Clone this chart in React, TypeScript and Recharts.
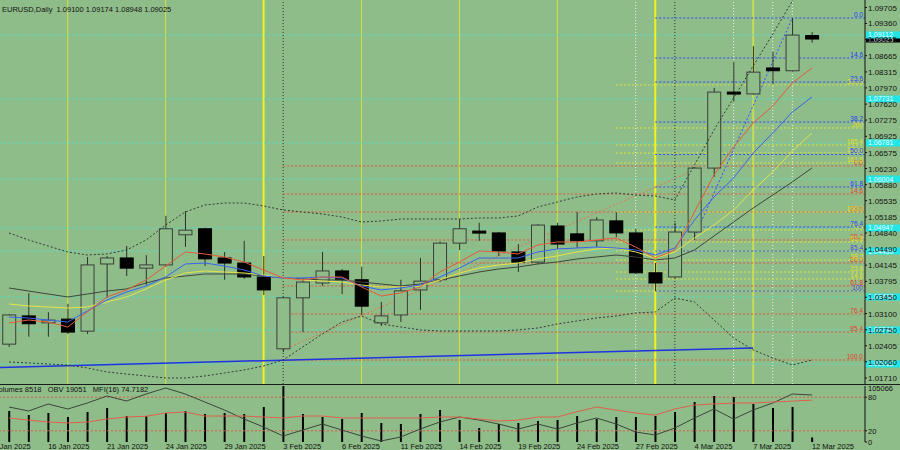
import React from "react";
import { Bar, ComposedChart, Line, ReferenceLine, XAxis, YAxis } from "recharts";

const BG = "#8fbd8a";
const FONT = "'Liberation Sans', Arial, sans-serif";
const X_MIN = -0.46;
const X_MAX = 43.71;
const PRICE_DOMAIN = [1.0158, 1.09867];

const dates = [
  "14 Jan", "15 Jan", "16 Jan", "17 Jan", "20 Jan", "21 Jan", "22 Jan", "23 Jan", "24 Jan", "27 Jan",
  "28 Jan", "29 Jan", "30 Jan", "31 Jan", "3 Feb", "4 Feb", "5 Feb", "6 Feb", "7 Feb", "10 Feb",
  "11 Feb", "12 Feb", "13 Feb", "14 Feb", "17 Feb", "18 Feb", "19 Feb", "20 Feb", "21 Feb", "24 Feb",
  "25 Feb", "26 Feb", "27 Feb", "28 Feb", "3 Mar", "4 Mar", "5 Mar", "6 Mar", "7 Mar", "10 Mar",
  "11 Mar", "12 Mar",
];

const opens = [1.0244, 1.0305, 1.029, 1.0298, 1.0272, 1.0417, 1.043, 1.0408, 1.0415, 1.048, 1.0493, 1.043, 1.0419, 1.0389, 1.0234, 1.0344, 1.0376, 1.0402, 1.0383, 1.029, 1.0307, 1.0361, 1.0383, 1.0462, 1.0488, 1.0484, 1.0443, 1.0421, 1.0499, 1.0482, 1.0467, 1.051, 1.0484, 1.0398, 1.0389, 1.0486, 1.0624, 1.0788, 1.0784, 1.084, 1.0834, 1.091];
const highs = [1.0309, 1.0354, 1.0313, 1.0331, 1.0432, 1.0434, 1.0456, 1.0436, 1.0521, 1.0531, 1.0495, 1.0443, 1.0467, 1.0434, 1.0346, 1.0387, 1.0443, 1.0406, 1.0411, 1.0335, 1.0383, 1.043, 1.0465, 1.0514, 1.0506, 1.0486, 1.046, 1.0503, 1.0506, 1.0529, 1.0518, 1.0529, 1.0493, 1.0419, 1.0506, 1.0626, 1.0797, 1.0853, 1.0887, 1.0875, 1.0948, 1.09174];
const lows = [1.0238, 1.026, 1.026, 1.0266, 1.0266, 1.0344, 1.0391, 1.0372, 1.0411, 1.0454, 1.0413, 1.0383, 1.0385, 1.035, 1.0227, 1.027, 1.037, 1.0352, 1.0307, 1.0283, 1.0292, 1.0318, 1.0378, 1.0447, 1.0467, 1.0434, 1.04, 1.0417, 1.0449, 1.0452, 1.0454, 1.0475, 1.0396, 1.0359, 1.0387, 1.0469, 1.0605, 1.0767, 1.0782, 1.0805, 1.0832, 1.08948];
const closes = [1.0307, 1.0288, 1.0296, 1.027, 1.0415, 1.043, 1.0408, 1.0415, 1.0493, 1.049, 1.0428, 1.0419, 1.0389, 1.0361, 1.0344, 1.0378, 1.0402, 1.0383, 1.0326, 1.0305, 1.0359, 1.038, 1.0462, 1.0493, 1.0484, 1.0445, 1.0421, 1.0501, 1.046, 1.0467, 1.0512, 1.0484, 1.0398, 1.0376, 1.0486, 1.0624, 1.0788, 1.0784, 1.0831, 1.0834, 1.0911, 1.09025];

const maRed = [1.02897, 1.02961, 1.02918, 1.0281, 1.03134, 1.03458, 1.03609, 1.03825, 1.04127, 1.04429, 1.04386, 1.04321, 1.04213, 1.04041, 1.03868, 1.03825, 1.03889, 1.03889, 1.03674, 1.03479, 1.03544, 1.03674, 1.03997, 1.04213, 1.0445, 1.04429, 1.04386, 1.0458, 1.04645, 1.04645, 1.04688, 1.04731, 1.04537, 1.04299, 1.04472, 1.05292, 1.06091, 1.06695, 1.07213, 1.0758, 1.08076, 1.084];
const maBlue = [1.03026, 1.03004, 1.02961, 1.02918, 1.03156, 1.03393, 1.03566, 1.03695, 1.03889, 1.0417, 1.04191, 1.04127, 1.04041, 1.03911, 1.03868, 1.03868, 1.03889, 1.03868, 1.03695, 1.03609, 1.03652, 1.03717, 1.03889, 1.04084, 1.04299, 1.04299, 1.04299, 1.04429, 1.04494, 1.04515, 1.04537, 1.04515, 1.04472, 1.04364, 1.04515, 1.05119, 1.05616, 1.06026, 1.06565, 1.06997, 1.0745, 1.07774];
const maYellow = [1.03307, 1.03264, 1.03242, 1.0322, 1.03242, 1.0335, 1.03458, 1.03631, 1.03825, 1.03976, 1.04019, 1.03997, 1.03976, 1.03933, 1.03868, 1.03825, 1.03803, 1.03781, 1.03717, 1.03674, 1.03674, 1.03695, 1.03825, 1.03976, 1.04084, 1.04148, 1.04191, 1.04278, 1.04343, 1.04429, 1.04494, 1.04515, 1.04429, 1.04299, 1.04429, 1.04731, 1.05011, 1.05335, 1.05767, 1.06155, 1.06608, 1.06997];
const maDark = [1.03652, 1.03587, 1.03522, 1.03458, 1.03522, 1.03587, 1.03631, 1.0376, 1.03868, 1.03911, 1.03954, 1.03954, 1.03954, 1.03911, 1.03868, 1.03846, 1.03825, 1.03825, 1.03781, 1.03738, 1.03695, 1.03738, 1.03825, 1.03911, 1.03997, 1.04062, 1.04105, 1.0417, 1.04213, 1.04278, 1.04321, 1.04364, 1.04321, 1.04256, 1.04299, 1.04472, 1.04774, 1.05076, 1.05378, 1.05659, 1.0594, 1.06242];
const bandUpper = [1.04839, 1.04688, 1.04558, 1.04429, 1.04364, 1.04386, 1.04472, 1.04688, 1.05011, 1.05292, 1.05443, 1.05486, 1.05486, 1.05422, 1.05335, 1.05292, 1.05249, 1.05184, 1.05076, 1.05098, 1.05141, 1.05141, 1.05141, 1.05141, 1.05163, 1.05163, 1.05206, 1.054, 1.05508, 1.05616, 1.05681, 1.05702, 1.05659, 1.05637, 1.05551, 1.06306, 1.07062, 1.07752, 1.08443, 1.09133, 1.09845, 1.10514];
const bandLower = [1.02055, 1.02034, 1.02012, 1.0199, 1.01926, 1.01839, 1.01796, 1.01753, 1.0171, 1.0171, 1.01753, 1.01818, 1.01882, 1.01969, 1.02098, 1.02379, 1.02659, 1.02918, 1.03048, 1.02875, 1.02811, 1.02746, 1.02724, 1.02724, 1.02724, 1.02724, 1.02746, 1.02789, 1.02875, 1.0294, 1.03004, 1.03048, 1.03113, 1.03134, 1.03436, 1.0335, 1.02961, 1.02573, 1.02314, 1.02141, 1.0199, 1.02098];

const volumes = [58160, 50650, 54400, 46900, 56280, 63780, 48780, 48780, 54400, 58160, 52530, 54400, 52530, 65660, 105066, 52530, 46900, 43150, 54400, 35640, 33770, 52530, 60030, 41270, 26260, 33770, 35640, 39400, 41270, 48780, 43150, 46900, 46900, 48780, 56280, 75040, 86300, 84420, 71290, 63780, 65660, 8518];
const obv = [-10949, -20949, -3449, -15949, -949, 16551, 4051, 21551, 36551, 21551, 1551, -18449, -40949, -60949, -83449, -68449, -53449, -68449, -83449, -95949, -85949, -65949, -48449, -35949, -43449, -53449, -65949, -53449, -65949, -50949, -38449, -53449, -73449, -80949, -63449, -38449, -15949, -40949, -18449, -949, 21551, 19051];
const mfi = [42.9, 39, 35.7, 34, 35.7, 41, 44.6, 46, 51.8, 53.6, 46.4, 46.4, 46.4, 44.6, 42.9, 46.4, 46.4, 42.9, 42.9, 42.9, 42.9, 42.9, 44.6, 44.6, 41, 37.5, 39, 44.6, 44.6, 54, 62.5, 57, 51.8, 48, 59, 66, 68, 69.6, 69.6, 71.4, 73, 74.7182];

const priceTicks = [1.09705, 1.0936, 1.09015, 1.08665, 1.08315, 1.0797, 1.0762, 1.07275, 1.06925, 1.06575, 1.0623, 1.0588, 1.05535, 1.05185, 1.0484, 1.0449, 1.04145, 1.03795, 1.0345, 1.031, 1.0275, 1.02405, 1.0206, 1.0171];
const xTickIndex = [-1, 2, 5, 8, 11, 14, 17, 20, 23, 26, 29, 32, 35, 38, 41];
const xTickLabels = ["13 Jan 2025", "16 Jan 2025", "21 Jan 2025", "24 Jan 2025", "29 Jan 2025", "3 Feb 2025", "6 Feb 2025", "11 Feb 2025", "14 Feb 2025", "19 Feb 2025", "24 Feb 2025", "27 Feb 2025", "4 Mar 2025", "7 Mar 2025", "12 Mar 2025"];

// horizontal levels with cyan price boxes on the axis
const levelPrices = [1.09112, 1.07731, 1.06781, 1.06004, 1.04947, 1.0445, 1.03458, 1.02746, 1.02012];

const redFibLabels = ["0.0", "14.6", "23.6", "38.2", "50.0", "61.8", "76.4", "85.4", "100.0"];
const redFibPrices = [1.06285, 1.0568, 1.05292, 1.04688, 1.04191, 1.03695, 1.03091, 1.02703, 1.02098];
const yellowFibLabels = ["0.0", "14.6", "23.6", "38.2", "50.0", "61.8", "76.4", "100.0", "161.8", "176.4", "185.4", "200", "261.8"];
const yellowFibPrices = [1.03587, 1.03846, 1.03997, 1.04256, 1.0445, 1.04645, 1.04904, 1.05292, 1.06349, 1.06565, 1.06738, 1.07105, 1.08033];
const blueFibLabels = ["0.0", "14.6", "23.6", "38.2", "50.0", "61.8", "76.4", "85.4", "100"];
const blueFibPrices = [1.09479, 1.08615, 1.08097, 1.07234, 1.06533, 1.05832, 1.04968, 1.0445, 1.03587];

const weekLines = [3, 8, 18, 23, 28];
const monthLines = [13, 33];
const lastWeekLine = [38];
const whiteLines = [32, 37, 39, 40];
const darkLines = [14, 34];

const priceRows = dates.map((date, i) => ({
  i,
  date,
  open: opens[i],
  high: highs[i],
  low: lows[i],
  close: closes[i],
  maRed: maRed[i],
  maBlue: maBlue[i],
  maYellow: maYellow[i],
  maDark: maDark[i],
  bandUpper: bandUpper[i],
  bandLower: bandLower[i],
}));

const volumeRows = dates.map((date, i) => ({ i, date, vol: volumes[i], obv: obv[i], mfi: mfi[i] }));

function Candle(props: any) {
  const { x, y, width, height, payload } = props;
  if (!payload || height == null) return null;
  const top = Math.min(y, y + height);
  const h = Math.abs(height);
  const span = payload.high - payload.low;
  const py = (v: number) => top + ((payload.high - v) / span) * h;
  const cx = x + width / 2;
  const bull = payload.close >= payload.open;
  const bTop = py(Math.max(payload.open, payload.close));
  const bBot = py(Math.min(payload.open, payload.close));
  return (
    <g>
      <line x1={cx} x2={cx} y1={top} y2={top + h} stroke="#2a2f2a" strokeWidth={1} />
      <rect
        x={x + 0.5}
        y={bTop}
        width={width - 1}
        height={Math.max(bBot - bTop, bull ? 1 : 2)}
        fill={bull ? BG : "#000"}
        stroke={bull ? "#3a3f3a" : "#000"}
        strokeWidth={1}
      />
    </g>
  );
}

function PriceTick(props: any) {
  const { x, y, payload } = props;
  return (
    <text x={x} y={y + 3} fontSize={8} fontFamily={FONT} fill="#111" textAnchor="start">
      {Number(payload.value).toFixed(5)}
    </text>
  );
}

function DateTick(props: any) {
  const { x, y, payload } = props;
  const k = xTickIndex.indexOf(payload.value);
  return (
    <text x={x} y={y + 7} fontSize={7.5} fontFamily={FONT} fill="#111" textAnchor="start">
      {xTickLabels[k]}
    </text>
  );
}

function LevelTick(props: any) {
  const { x, y, payload } = props;
  return (
    <text x={x} y={y + 3} fontSize={7.5} fontFamily={FONT} fill="#111" textAnchor="start">
      {payload.value}
    </text>
  );
}

function fibLabel(text: string, color: string) {
  return (p: any) => {
    const vb = p.viewBox || {};
    return (
      <text x={vb.x + vb.width - 2} y={vb.y - 1} fontSize={6.5} fontFamily={FONT} fill={color} textAnchor="end">
        {text}
      </text>
    );
  };
}

function boxLabel(text: string, fill: string, color: string) {
  return (p: any) => {
    const vb = p.viewBox || {};
    const x = vb.x + vb.width + 1;
    return (
      <g>
        <rect x={x} y={vb.y - 3.5} width={34} height={7} fill={fill} />
        <text x={x + 2} y={vb.y + 2.5} fontSize={7} fontFamily={FONT} fill={color}>
          {text}
        </text>
      </g>
    );
  };
}

function verticals(prefix: string, yAxisId?: string) {
  const ax = yAxisId ? { yAxisId } : {};
  return [
    ...weekLines.map((i) => <ReferenceLine key={prefix + "w" + i} {...ax} x={i} stroke="#d6e23c" strokeWidth={1} />),
    ...monthLines.map((i) => <ReferenceLine key={prefix + "m" + i} {...ax} x={i} stroke="#f2f21e" strokeWidth={2} />),
    ...lastWeekLine.map((i) => <ReferenceLine key={prefix + "l" + i} {...ax} x={i} stroke="#c6dc56" strokeWidth={2} />),
    ...whiteLines.map((i) => <ReferenceLine key={prefix + "d" + i} {...ax} x={i} stroke="#eef4ea" strokeDasharray="1 2" />),
    ...darkLines.map((i) => <ReferenceLine key={prefix + "k" + i} {...ax} x={i} stroke="#2c322c" strokeDasharray="1 2" />),
  ];
}

const layer: React.CSSProperties = { position: "absolute", left: 0 };

export default function App() {
  return (
    <div style={{ position: "relative", width: 900, height: 450, background: BG, overflow: "hidden", pointerEvents: "none" }}>
      <style>{"body{margin:0;}"}</style>

      {/* back layer of the price window: objects drawn behind the bars */}
      <div style={{ ...layer, top: 0 }}>
        <ComposedChart width={900} height={384} data={priceRows} margin={{ top: 0, right: 35, bottom: 0, left: 0 }}>
          <XAxis type="number" dataKey="i" domain={[X_MIN, X_MAX]} allowDataOverflow hide />
          <YAxis domain={PRICE_DOMAIN} allowDataOverflow hide />
          {verticals("p")}
          {levelPrices.map((v) => (
            <ReferenceLine key={"lv" + v} y={v} stroke="#52dcc8" strokeDasharray="2 2" />
          ))}
          {redFibPrices.map((v, k) => (
            <ReferenceLine
              key={"rf" + k}
              segment={[{ x: 14, y: v }, { x: X_MAX, y: v }]}
              stroke="#e0553e"
              strokeDasharray="2 2"
              label={fibLabel(redFibLabels[k], "#e83a2a")}
            />
          ))}
          {yellowFibPrices.map((v, k) => (
            <ReferenceLine
              key={"yf" + k}
              segment={[{ x: 31, y: v }, { x: X_MAX, y: v }]}
              stroke="#e2e23a"
              strokeDasharray="2 2"
              label={fibLabel(yellowFibLabels[k], "#e8e020")}
            />
          ))}
          {blueFibPrices.map((v, k) => (
            <ReferenceLine
              key={"bf" + k}
              segment={[{ x: 33, y: v }, { x: X_MAX, y: v }]}
              stroke="#3048ff"
              strokeDasharray="2 2"
              label={fibLabel(blueFibLabels[k], "#2038ff")}
            />
          ))}
          <ReferenceLine segment={[{ x: X_MIN, y: 1.01936 }, { x: 38, y: 1.02357 }]} stroke="#1f33e0" strokeWidth={1.5} />
          <ReferenceLine segment={[{ x: 14, y: 1.02314 }, { x: 35, y: 1.06198 }]} stroke="#e07452" strokeDasharray="2 2" />
          <ReferenceLine segment={[{ x: 35, y: 1.04753 }, { x: 40, y: 1.09479 }]} stroke="#3050ff" strokeDasharray="2 2" />
        </ComposedChart>
      </div>

      {/* front layer of the price window */}
      <div style={{ ...layer, top: 0 }}>
        <ComposedChart width={900} height={384} data={priceRows} margin={{ top: 0, right: 0, bottom: 0, left: 0 }}>
          <XAxis type="number" dataKey="i" domain={[X_MIN, X_MAX]} allowDataOverflow hide />
          <YAxis
            orientation="right"
            width={35}
            domain={PRICE_DOMAIN}
            allowDataOverflow
            ticks={priceTicks}
            interval={0}
            tick={<PriceTick />}
            tickSize={2}
            tickMargin={1}
            axisLine={{ stroke: "#111" }}
            tickLine={{ stroke: "#111" }}
          />
          <Line dataKey="bandUpper" stroke="#343c34" strokeDasharray="2 2" dot={false} activeDot={false} strokeWidth={1} isAnimationActive={false} />
          <Line dataKey="bandLower" stroke="#343c34" strokeDasharray="2 2" dot={false} activeDot={false} strokeWidth={1} isAnimationActive={false} />
          <Bar dataKey={(d: any) => [d.low, d.high]} barSize={14} shape={(p: any) => <Candle {...p} />} activeBar={false} isAnimationActive={false} />
          <Line dataKey="maDark" stroke="#3c463c" dot={false} activeDot={false} strokeWidth={1} isAnimationActive={false} />
          <Line dataKey="maYellow" stroke="#e4e448" dot={false} activeDot={false} strokeWidth={1} isAnimationActive={false} />
          <Line dataKey="maBlue" stroke="#3a62f0" dot={false} activeDot={false} strokeWidth={1} isAnimationActive={false} />
          <Line dataKey="maRed" stroke="#e65a3c" dot={false} activeDot={false} strokeWidth={1} isAnimationActive={false} />
          <ReferenceLine y={1.09025} stroke="none" label={boxLabel("1.09025", "#000", "#fff")} />
          {levelPrices.map((v) => (
            <ReferenceLine key={"lb" + v} y={v} stroke="none" label={boxLabel(v.toFixed(5), "#22e6e6", "#e8ffff")} />
          ))}
        </ComposedChart>
      </div>

      <div style={{ ...layer, top: 384, width: 900, height: 0, borderTop: "1px solid #1a1e1a" }} />

      {/* back layer of the indicator window */}
      <div style={{ ...layer, top: 385 }}>
        <ComposedChart width={900} height={65} data={volumeRows} margin={{ top: 1, right: 35, bottom: 8, left: 0 }}>
          <XAxis type="number" dataKey="i" domain={[X_MIN, X_MAX]} allowDataOverflow hide />
          <YAxis domain={[0, 100]} hide />
          {verticals("v")}
        </ComposedChart>
      </div>

      {/* front layer of the indicator window */}
      <div style={{ ...layer, top: 385 }}>
        <ComposedChart width={900} height={65} data={volumeRows} margin={{ top: 1, right: 0, bottom: 0, left: 0 }}>
          <XAxis
            type="number"
            dataKey="i"
            domain={[X_MIN, X_MAX]}
            allowDataOverflow
            ticks={xTickIndex}
            interval={0}
            height={8}
            axisLine={false}
            tickLine={false}
            tickSize={0}
            tickMargin={0}
            tick={<DateTick />}
          />
          <YAxis
            yAxisId="mfi"
            orientation="right"
            width={35}
            domain={[0, 100]}
            ticks={[0, 20, 80]}
            interval={0}
            tick={<LevelTick />}
            tickSize={2}
            tickMargin={1}
            axisLine={{ stroke: "#111" }}
            tickLine={{ stroke: "#111" }}
          />
          <YAxis yAxisId="vol" hide domain={[0, 105066]} />
          <YAxis yAxisId="obv" hide domain={[-98449, 41551]} />
          <ReferenceLine yAxisId="mfi" y={80} stroke="#e0584a" strokeDasharray="2 2" />
          <ReferenceLine yAxisId="mfi" y={20} stroke="#e0584a" strokeDasharray="2 2" />
          <ReferenceLine
            yAxisId="vol"
            y={105066}
            stroke="none"
            ifOverflow="visible"
            label={(p: any) => (
              <text x={p.viewBox.x + p.viewBox.width + 3} y={p.viewBox.y + 5} fontSize={7.5} fontFamily={FONT} fill="#111">
                105066
              </text>
            )}
          />
          <Bar yAxisId="vol" dataKey="vol" barSize={2} fill="#000" activeBar={false} isAnimationActive={false} />
          <Line yAxisId="obv" dataKey="obv" stroke="#3c463c" dot={false} activeDot={false} strokeWidth={1} isAnimationActive={false} />
          <Line yAxisId="mfi" dataKey="mfi" stroke="#e0604c" dot={false} activeDot={false} strokeWidth={1} isAnimationActive={false} />
        </ComposedChart>
      </div>

      <div style={{ position: "absolute", left: 2, top: 5, fontFamily: FONT, fontSize: 7.5, color: "#111", whiteSpace: "pre" }}>
        {"EURUSD,Daily  1.09100 1.09174 1.08948 1.09025"}
      </div>
      <div style={{ position: "absolute", left: -6, top: 385, fontFamily: FONT, fontSize: 7.5, color: "#111", whiteSpace: "pre" }}>
        {"Volumes 8518   OBV 19051   MFI(16) 74.7182"}
      </div>
    </div>
  );
}
